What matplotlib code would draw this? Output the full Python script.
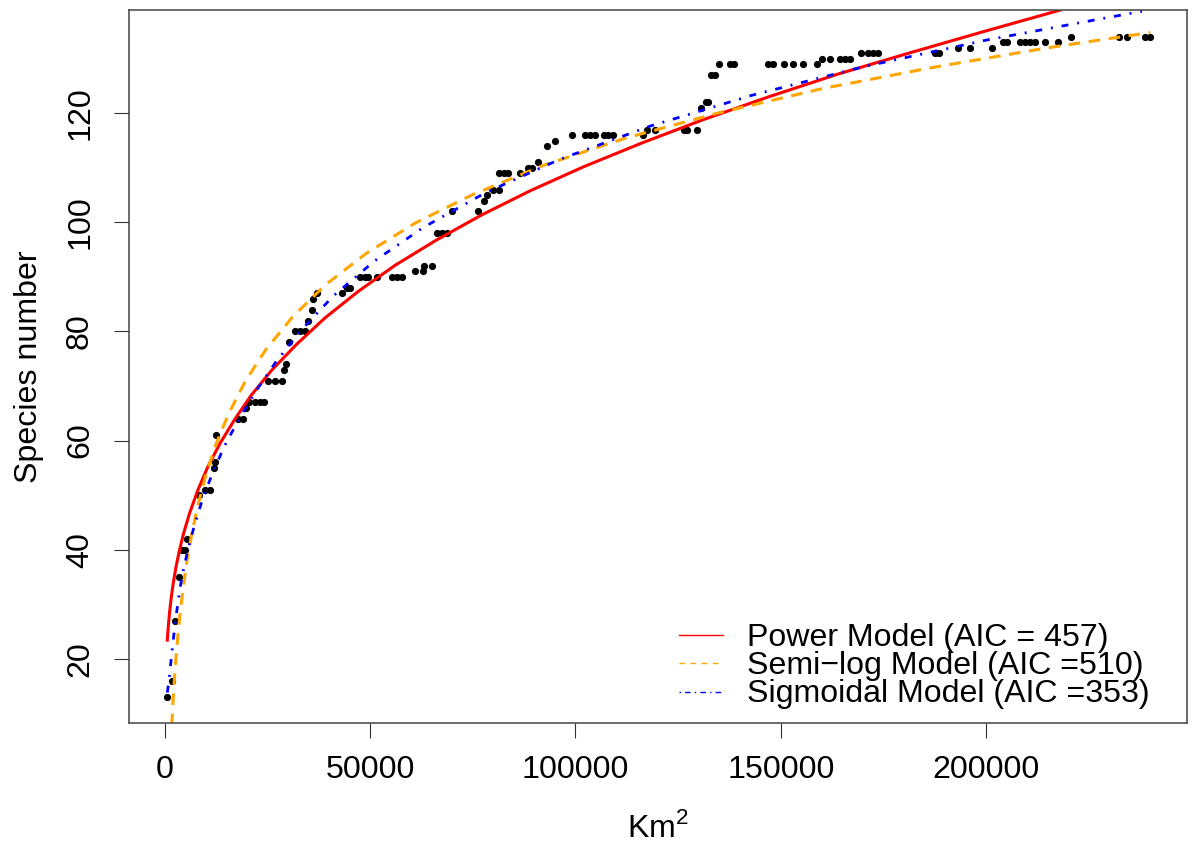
import numpy as np
import matplotlib
matplotlib.use("Agg")
import matplotlib.pyplot as plt

plt.rcParams['font.family'] = ['Liberation Sans', 'DejaVu Sans']
plt.rcParams['mathtext.fontset'] = 'custom'
plt.rcParams['mathtext.rm'] = 'Liberation Sans'

# observed species counts vs area (Km^2)
area = [560, 1780, 2360, 3340, 4210, 4800, 5430, 8280, 9670, 10890,
        11940, 12060, 12350, 17780, 19000, 19800, 20390, 21920, 23140, 24120,
        25160, 26800, 28430, 28990, 29400, 30280, 31670, 32890, 34100, 34910,
        35740, 35980, 37100, 43040, 44260, 45070, 47500, 48720, 49520, 51570,
        55220, 56440, 57660, 60900, 62780, 63090, 64970, 66190, 67400, 68620,
        69840, 76320, 77710, 78510, 79830, 81360, 81440, 82580, 83630, 86480,
        88500, 89330, 90940, 93130, 95000, 99070, 102310, 103530, 104750, 106940,
        107990, 109060, 116370, 117340, 119360, 126430, 127090, 129670, 130500, 131790,
        132350, 132930, 133980, 135030, 137630, 138610, 146960, 148180, 150790, 153050,
        155490, 158900, 159970, 161990, 164430, 165650, 166870, 169470, 171330, 172540,
        173760, 187570, 188620, 193250, 196100, 201380, 204210, 205040, 208280, 209500,
        210710, 211930, 214370, 217610, 220630, 232470, 234420, 238730, 239950]
species = [13, 16, 27, 35, 40, 40, 42, 50, 51, 51,
           55, 56, 61, 64, 64, 66, 67, 67, 67, 67,
           71, 71, 71, 73, 74, 78, 80, 80, 80, 82,
           84, 86, 87, 87, 88, 88, 90, 90, 90, 90,
           90, 90, 90, 91, 91, 92, 92, 98, 98, 98,
           102, 102, 104, 105, 106, 106, 109, 109, 109, 109,
           110, 110, 111, 114, 115, 116, 116, 116, 116, 116,
           116, 116, 116, 117, 117, 117, 117, 117, 121, 122,
           122, 127, 127, 129, 129, 129, 129, 129, 129, 129,
           129, 129, 130, 130, 130, 130, 130, 131, 131, 131,
           131, 131, 131, 132, 132, 132, 133, 133, 133, 133,
           133, 133, 133, 133, 134, 134, 134, 134, 134]

# fitted curves, values
power_x = [560, 800, 1100, 1500, 2000, 2700, 3500, 4500, 6000, 8000, 10500,
           13500, 17000, 21000, 26000, 32000, 39000, 47000, 56000, 66000, 77000,
           89000, 102000, 116000, 131000, 147000, 164000, 182000, 200000, 218000]
power_y = [23.4, 25.9, 28.4, 31.1, 33.8, 36.9, 39.8, 42.9, 46.7, 50.9, 55.3,
           59.6, 63.9, 68.3, 72.9, 77.6, 82.5, 87.3, 92.1, 96.7, 101.3,
           105.8, 110.2, 114.5, 118.8, 123.0, 127.2, 131.2, 135.1, 138.9]

semilog_x = [1650, 2000, 2300, 2700, 3200, 3800, 4500, 5400, 6500, 8000, 10000,
             12500, 15500, 19500, 24500, 31000, 39000, 49000, 61000, 75000,
             92000, 112000, 135000, 160000, 187000, 215000, 240000]
semilog_y = [7.8, 12.7, 16.3, 20.4, 24.7, 29.1, 33.4, 38.1, 42.8, 48.1, 53.8,
             59.5, 64.9, 70.8, 76.6, 82.6, 88.5, 94.3, 99.9, 105.1,
             110.4, 115.4, 120.1, 124.5, 128.4, 132.0, 134.8]

sigm_x = [560, 975, 1460, 1950, 2440, 2920, 3650, 4380, 5500, 7000, 9000,
          11500, 14500, 18000, 22000, 27000, 33000, 41000, 51000, 63000, 78000,
          96000, 118000, 143000, 170000, 200000, 225000, 238000]
sigm_y = [13.8, 16.0, 19.6, 23.0, 26.2, 29.0, 32.9, 35.9, 39.7, 44.0, 48.9,
          53.9, 59.0, 63.9, 68.9, 74.4, 80.1, 86.5, 92.9, 99.1, 105.4,
          111.5, 117.6, 123.3, 128.5, 133.4, 136.9, 138.7]

labels = ["Power Model (AIC = 457)", "Semi\u2212log Model (AIC =510)",
          "Sigmoidal Model (AIC =353)"]

FS = 23.1

fig = plt.figure(figsize=(11.92, 8.55), dpi=100)
ax = fig.add_axes([128.5 / 1192, 1 - 723.3 / 855, 1058.2 / 1192, 712.8 / 855])

ax.plot(area, species, 'o', color='black', ms=5.2, mew=0)
ax.plot(power_x, power_y, color='red', lw=2.2)
ax.plot(semilog_x, semilog_y, color='orange', lw=2.2, dashes=(3.8, 2.8))
ax.plot(sigm_x, sigm_y, color='blue', lw=2.0, dashes=(2.5, 3.2, 0.7, 3.2))

ax.set_xlim(-8890, 248890)
ax.set_ylim(8.16, 138.84)
ax.set_xticks([0, 50000, 100000, 150000, 200000])
ax.set_xticklabels(['0', '50000', '100000', '150000', '200000'])
ax.set_yticks([20, 40, 60, 80, 100, 120])
ax.tick_params(axis='both', labelsize=FS, length=10.8, width=0.8, color='#333333')
ax.tick_params(axis='x', pad=12.3)
ax.tick_params(axis='y', pad=13.3)
for lab in ax.get_yticklabels():
    lab.set_rotation(90)
    lab.set_va('center')
for s in ax.spines.values():
    s.set_color('#444444')
    s.set_linewidth(1.1)

ax.set_xlabel(r'Km$^{\mathrm{2}}$', fontsize=FS, labelpad=19)
ax.set_ylabel('Species number', fontsize=FS, labelpad=15)

# legend, drawn by hand to match the tight R layout
leg_styles = [dict(color='red', lw=1.0),
              dict(color='orange', lw=1.0, dashes=(4, 4)),
              dict(color='blue', lw=1.0, dashes=(1, 3, 4, 3))]
line_y = [0.1239, 0.0846, 0.0438]
text_y = [0.1086, 0.0692, 0.0295]
for st, ly, ty, lab in zip(leg_styles, line_y, text_y, labels):
    ax.plot([0.5202, 0.5618], [ly, ly], transform=ax.transAxes, **st)
    ax.text(0.5845, ty, lab, transform=ax.transAxes, fontsize=FS,
            ha='left', va='baseline')

fig.savefig('out.png', dpi=100)
